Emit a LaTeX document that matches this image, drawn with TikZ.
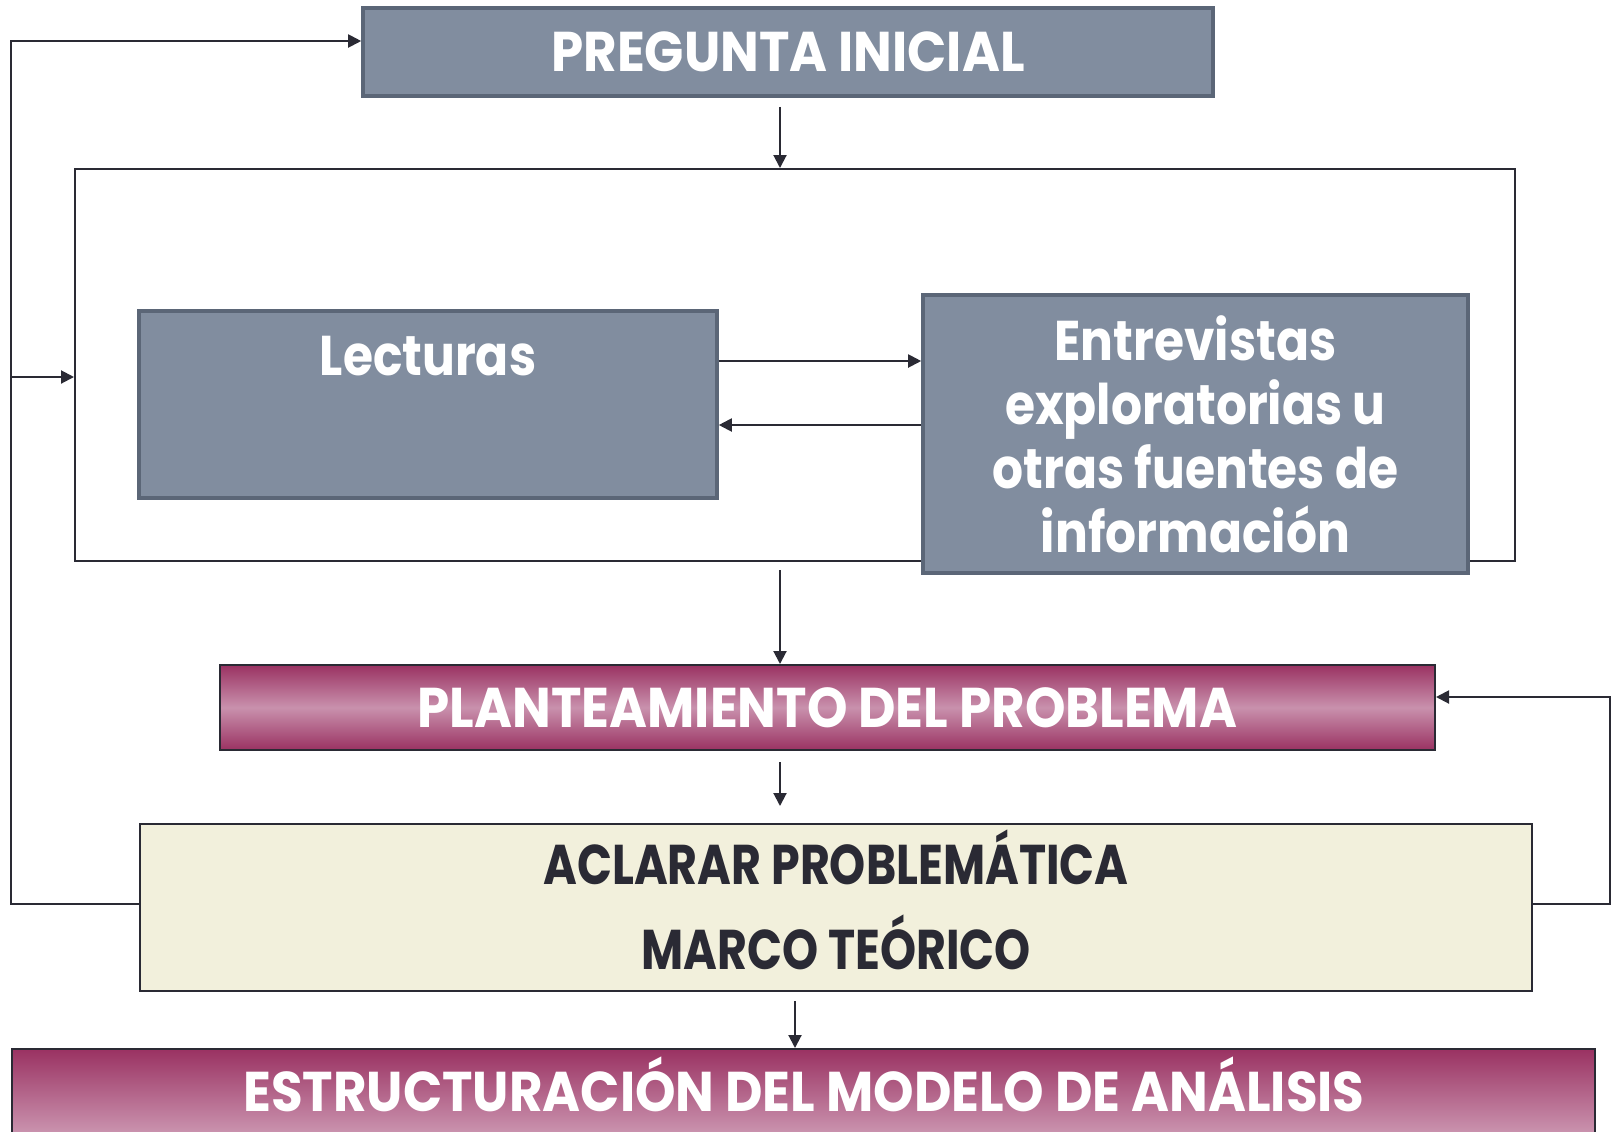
\documentclass[tikz,border=0pt]{standalone}
\usepackage{fontspec}
\setmainfont{Poppins}[FakeStretch=0.82]
\newfontfamily\capsfont{Poppins}[FakeStretch=0.92]
\newfontfamily\mixfont{Poppins}[FakeStretch=0.87]
\usetikzlibrary{arrows.meta}
\definecolor{slate}{HTML}{818D9F}
\definecolor{slateline}{HTML}{5B6677}
\definecolor{plum}{HTML}{9A3262}
\definecolor{plumlight}{HTML}{C991AD}
\definecolor{cream}{HTML}{F2F0DC}
\definecolor{ink}{HTML}{2A2A34}
\tikzset{
  arr/.style={draw=ink, line width=1pt, -{Triangle[length=6.5pt,width=6.5pt]}},
  slatebox/.style={draw=slateline, line width=1.8pt, fill=slate, rectangle, inner sep=0pt},
  plumbox/.style={draw=ink, line width=1pt, rectangle, inner sep=0pt, top color=plum, bottom color=plum, middle color=plumlight},
  lighttxt/.style={text=white, font=\capsfont\bfseries\fontsize{28}{32}\selectfont, align=center},
  mixtxt/.style={text=white, font=\mixfont\bfseries\fontsize{28}{32}\selectfont, align=center},
  darktxt/.style={text=ink, font=\bfseries\fontsize{28}{32}\selectfont, align=center}
}
\begin{document}
\begin{tikzpicture}[x=0.5pt,y=0.5pt,yscale=-1,xscale=1]
\clip (0,0) rectangle (1612,1131);
\fill[white] (0,0) rectangle (1612,1131);

%Shape: Rectangle [preg]
\node[slatebox, minimum width=425pt, minimum height=44pt] (preg) at (788,52) {};
\node[lighttxt] (pregtxt) at (preg.center) {PREGUNTA INICIAL};
%Shape: Rectangle [frame]
\node[draw=ink, line width=1pt, rectangle, inner sep=0pt, minimum width=720pt, minimum height=196pt] (frame) at (795,365) {};
%Shape: Rectangle [lect]
\node[slatebox, minimum width=289pt, minimum height=93.5pt] (lect) at (428,404.5) {};
\node[mixtxt] (lecttxt) at (428,356) {Lecturas};
%Shape: Rectangle [entr]
\node[slatebox, minimum width=272.5pt, minimum height=139pt] (entr) at (1195.5,434) {};
\node[mixtxt] (entrtxt) at (entr.center) {Entrevistas\\exploratorias u\\otras fuentes de\\información};
%Shape: Rectangle [plan]
\node[plumbox, minimum width=607.5pt, minimum height=42.5pt] (plan) at (827.5,707.5) {};
\node[lighttxt] (plantxt) at (plan.center) {PLANTEAMIENTO DEL PROBLEMA};
%Shape: Rectangle [acla]
\node[draw=ink, line width=1pt, fill=cream, rectangle, inner sep=0pt, minimum width=696pt, minimum height=83.5pt] (acla) at (836,907.5) {};
\node[darktxt] (aclatxt) at (836,857) {ACLARAR PROBLEMÁTICA};
\node[darktxt] (marctxt) at (836,942) {MARCO TEÓRICO};
%Shape: Rectangle [estr]
\node[plumbox, minimum width=791.5pt, minimum height=82pt] (estr) at (803.5,1131) {};
\node[lighttxt] (estrtxt) at (804,1084) {ESTRUCTURACIÓN DEL MODELO DE ANÁLISIS};

%Straight Lines
\coordinate (spine) at (780,0);
\coordinate (lowspine) at (795,0);
\coordinate (top) at (11,41);
\coordinate (side) at (11,377);
\coordinate (rgt) at (1610,697);
\coordinate (loop) at (820,904);
\coordinate (fwd) at (820,361);
\coordinate (back) at (820,425);
\draw[arr, shorten <=4.5pt] (preg.south -| spine) -- (frame.north -| spine);
\draw[arr, shorten <=4pt] (frame.south -| spine) -- (plan.north -| spine);
\draw[arr, shorten <=5.5pt, shorten >=8.5pt] (plan.south -| spine) -- (acla.north -| spine);
\draw[arr, shorten <=4.5pt] (acla.south -| lowspine) -- (estr.north -| lowspine);
\draw[arr] (lect.east |- fwd) -- (entr.west |- fwd);
\draw[arr] (entr.west |- back) -- (lect.east |- back);
\draw[arr] (acla.west |- loop) -| (top) -- (top -| preg.west);
\draw[arr] (side) -- (side -| frame.west);
\draw[arr] (acla.east |- loop) -| (rgt) -- (rgt -| plan.east);

\end{tikzpicture}
\end{document}
